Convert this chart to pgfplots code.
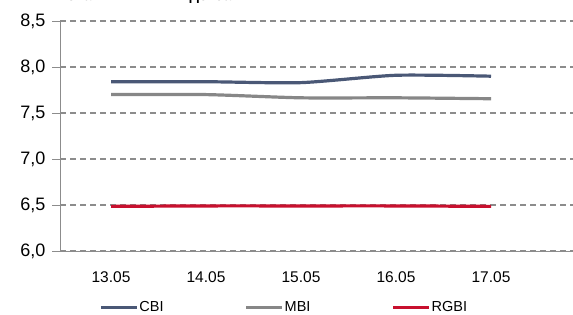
\documentclass[border=0pt]{standalone}
\usepackage{pgfplots}
\pgfplotsset{compat=1.18}
\usepackage{fontspec}
\setmainfont{Liberation Sans}
\definecolor{cbi}{HTML}{4A5876}
\definecolor{mbi}{HTML}{878787}
\definecolor{rgbi}{HTML}{C8102E}
\definecolor{gridc}{HTML}{8C8C8C}
\begin{document}
\begin{tikzpicture}[x=1pt,y=1pt]
\begin{axis}[
  at={(60pt,64pt)}, anchor=south west,
  scale only axis, width=513pt, height=230pt,
  xmin=-0.537, xmax=4.863, ymin=6, ymax=8.5,
  axis lines*=left,
  axis line style={gridc, line width=0.9pt},
  xtick={0,1,2,3,4},
  xticklabels={13.05,14.05,15.05,16.05,17.05},
  major x tick style={draw=none},
  ytick={6,6.5,7,7.5,8,8.5},
  tick align=outside, major tick length=8pt,
  major y tick style={gridc, line width=0.9pt},
  ymajorgrids,
  grid style={gridc, line width=1.2pt, dash pattern=on 6pt off 4pt},
  /pgf/number format/assume math mode=true,
  /pgf/number format/use comma,
  /pgf/number format/fixed,
  /pgf/number format/fixed zerofill,
  /pgf/number format/precision=1,
  yticklabel style={font=\fontsize{18}{21}\selectfont, xshift=-3pt},
  xticklabel style={font=\fontsize{15.5}{18}\selectfont, yshift=-9pt},
  legend columns=3,
  legend style={at={(0.436,-0.245)}, anchor=center, draw=none, fill=none,
    font=\fontsize{14.5}{17}\selectfont, nodes={inner sep=1pt},
    /tikz/every even column/.append style={column sep=80pt}},
  legend image code/.code={\draw[#1, line width=3.2pt] (0pt,0pt) -- (36pt,0pt);},
  every axis plot/.append style={line width=3.2pt, smooth, tension=0.4},
]
\addplot[cbi] coordinates {(0,7.84) (1,7.84) (2,7.83) (3,7.91) (4,7.90)};
\addlegendentry{CBI}
\addplot[mbi] coordinates {(0,7.70) (1,7.70) (2,7.665) (3,7.665) (4,7.655)};
\addlegendentry{MBI}
\addplot[rgbi] coordinates {(0,6.485) (1,6.49) (2,6.49) (3,6.49) (4,6.485)};
\addlegendentry{RGBI}
\end{axis}
\node[anchor=base west, font=\bfseries\fontsize{15}{18}\selectfont] at (62,314.5) {Ставки YTM в индексах};
\pgfresetboundingbox
\useasboundingbox (0,0) rectangle (573,315);
\end{tikzpicture}
\end{document}
